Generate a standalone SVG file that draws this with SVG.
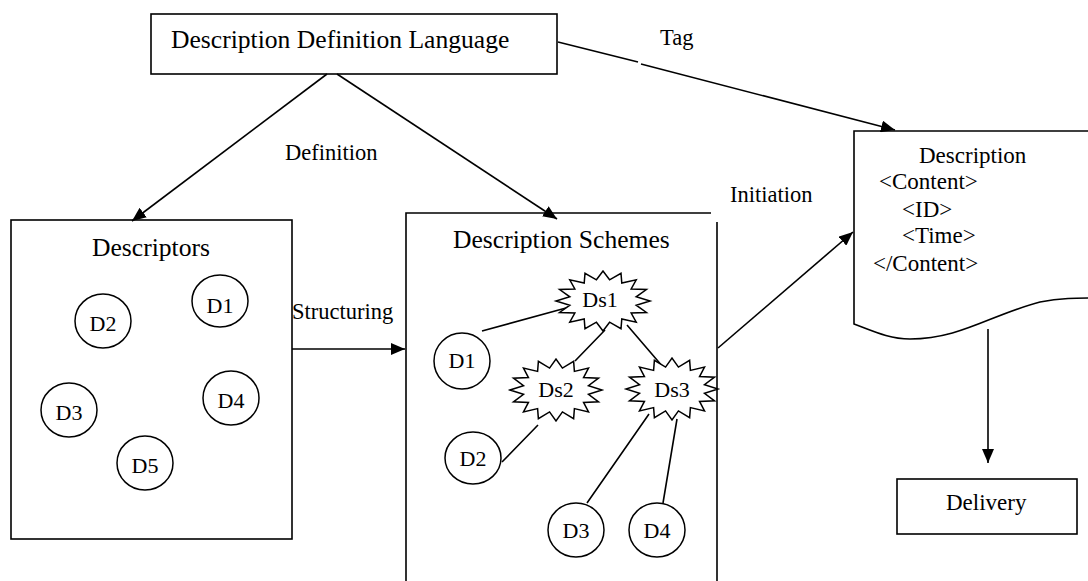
<svg xmlns="http://www.w3.org/2000/svg" width="1088" height="581" viewBox="0 0 1088 581">
<style>
.box{fill:#fff;stroke:#000;stroke-width:1.6}
.ln{fill:none;stroke:#000;stroke-width:1.6}
.c{fill:#fff;stroke:#000;stroke-width:1.5}
.star{fill:#fff;stroke:#000;stroke-width:1.5;vector-effect:non-scaling-stroke}
text{font-family:"Liberation Serif","Times New Roman",serif;fill:#000}
.big{font-size:25.6px}
.lab{font-size:22.5px}
.cl{font-size:22px;text-anchor:middle}
.doc{font-size:23px}
</style>
<defs>
<marker id="ah" viewBox="0 0 14 12" refX="14" refY="6" markerWidth="14" markerHeight="12" markerUnits="userSpaceOnUse" orient="auto">
<path d="M0,0 L14,6 L0,12 Z" fill="#000"/>
</marker>
<polygon id="star" class="star" points="1,0 .706,.140 .924,.383 .599,.400 .707,.707 .400,.599 .383,.924 .140,.706 0,1 -.140,.706 -.383,.924 -.400,.599 -.707,.707 -.599,.400 -.924,.383 -.706,.140 -1,0 -.706,-.140 -.924,-.383 -.599,-.400 -.707,-.707 -.400,-.599 -.383,-.924 -.140,-.706 0,-1 .140,-.706 .383,-.924 .400,-.599 .707,-.707 .599,-.400 .924,-.383 .706,-.140"/>
</defs>

<g id="ddl">
<rect class="box" x="151" y="14" width="406" height="60"/>
<text class="big" x="171" y="48">Description Definition Language</text>
</g>

<g id="descriptors">
<rect class="box" x="11" y="220" width="281" height="319"/>
<text class="big" x="92" y="256">Descriptors</text>
<ellipse class="c" cx="220" cy="301" rx="28" ry="26"/><text class="cl" x="220" y="313">D1</text>
<ellipse class="c" cx="103" cy="321" rx="28" ry="27"/><text class="cl" x="103" y="331">D2</text>
<ellipse class="c" cx="69" cy="410" rx="28" ry="27"/><text class="cl" x="69" y="420">D3</text>
<ellipse class="c" cx="231" cy="398" rx="28" ry="27"/><text class="cl" x="231" y="408">D4</text>
<ellipse class="c" cx="145" cy="463" rx="28" ry="27"/><text class="cl" x="145" y="473">D5</text>
</g>

<g id="schemes">
<path class="ln" d="M406,581 V213 H711 M717,222 V581"/>
<text class="big" x="453" y="248">Description Schemes</text>
<path class="ln" d="M482,331 L566,308 M605,330 L575,361 M627,325 L663,367 M502,462 L538,425 M587,503 L649,414 M663,503 L677,419"/>
<use href="#star" transform="translate(603,301) scale(47,30)"/><text class="cl" x="600" y="307">Ds1</text>
<use href="#star" transform="translate(556,390) scale(46,31)"/><text class="cl" x="556" y="397">Ds2</text>
<use href="#star" transform="translate(672,389) scale(46,31)"/><text class="cl" x="672" y="397">Ds3</text>
<ellipse class="c" cx="462" cy="361" rx="28" ry="28"/><text class="cl" x="462" y="368">D1</text>
<ellipse class="c" cx="473" cy="458" rx="28" ry="26"/><text class="cl" x="473" y="466">D2</text>
<ellipse class="c" cx="576" cy="530" rx="28" ry="27"/><text class="cl" x="576" y="538">D3</text>
<ellipse class="c" cx="657" cy="530" rx="28" ry="27"/><text class="cl" x="657" y="538">D4</text>
</g>

<g id="description">
<path class="box" d="M854,131 H1100 V298 C1075,298 1060,298 1040,302 C990,315 960,339 910,339 C890,339 875,332 854,324 Z"/>
<text class="doc" x="919" y="163">Description</text>
<text class="doc" x="879" y="189">&lt;Content&gt;</text>
<text class="doc" x="902" y="217">&lt;ID&gt;</text>
<text class="doc" x="902" y="243">&lt;Time&gt;</text>
<text class="doc" x="873" y="271">&lt;/Content&gt;</text>
</g>

<g id="delivery">
<rect class="box" x="897" y="479" width="180" height="55"/>
<text class="doc" x="946" y="510">Delivery</text>
</g>

<g id="connectors">
<line class="ln" x1="327" y1="74" x2="132" y2="221" marker-end="url(#ah)"/>
<line class="ln" x1="337" y1="74" x2="557" y2="219" marker-end="url(#ah)"/>
<line class="ln" x1="292" y1="349" x2="405" y2="349" marker-end="url(#ah)"/>
<line class="ln" x1="718" y1="348" x2="853" y2="232" marker-end="url(#ah)"/>
<line class="ln" x1="558" y1="42" x2="638" y2="62"/>
<line class="ln" x1="641" y1="64" x2="895" y2="130" marker-end="url(#ah)"/>
<line class="ln" x1="988" y1="329" x2="988" y2="463" marker-end="url(#ah)"/>
<text class="lab" x="285" y="160">Definition</text>
<text class="lab" x="660" y="45">Tag</text>
<text class="lab" x="292" y="319">Structuring</text>
<text class="lab" x="730" y="202">Initiation</text>
</g>
</svg>
